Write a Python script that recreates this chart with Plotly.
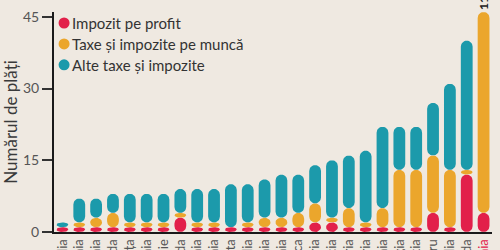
import math
import plotly.graph_objects as go

# ---- data ----
countries = ["Suedia", "Estonia", "Letonia", "Finlanda", "Franța", "Spania",
             "Marea Britanie", "Irlanda", "Germania", "Cehia", "Malta", "Portugalia",
             "Lituania", "Slovenia", "Danemarca", "Austria", "Grecia", "Bulgaria",
             "Ungaria", "Polonia", "Belgia", "Croația", "Cipru", "Italia", "Olanda",
             "România"]
profit = [1, 1, 1, 1, 1, 1, 1, 3, 1, 1, 1, 1, 1, 1, 1, 2, 2, 1, 1, 1, 1, 1, 4, 1, 12, 4]
munca  = [0, 1, 2, 3, 1, 1, 1, 1, 1, 1, 0, 1, 2, 2, 3, 4, 1, 4, 1, 4, 12, 12, 12, 12, 1, 42]
alte   = [1, 5, 4, 4, 6, 6, 6, 5, 7, 7, 9, 8, 8, 9, 8, 8, 12, 11, 15, 17, 9, 9, 11, 18, 27, 0]
series_names = ["Impozit pe profit", "Taxe și impozite pe muncă", "Alte taxe și impozite"]
romania_total_label = "113"
y_ticks = [0, 15, 30, 45]
y_title = "Numărul de plăți"

colors = ["#E2204A", "#EBA62C", "#1C9AAB"]
BG = "#EFE9E1"
FONT = "Lato"

# ---- layout geometry ----
W, H = 500, 250
M = dict(l=54, r=8, t=12, b=18)
Y_TOP = 46
N = len(countries)
HALF_W = 0.35  # half bar width in category units
px_x = (W - M["l"] - M["r"]) / N          # pixels per category
px_y = (H - M["t"] - M["b"]) / Y_TOP      # pixels per value unit
RY = HALF_W * px_x / px_y                 # round-cap height in value units


def pill(xc, a, b, n=14):
    """Outline of a pill (stadium) between values a and b at category xc."""
    h = b - a
    ry = min(RY, h / 2)
    top_c, bot_c = b - ry, a + ry
    xs, ys = [], []
    for k in range(n + 1):  # top cap, right -> left
        t = math.pi * k / n
        xs.append(xc + HALF_W * math.cos(t)); ys.append(top_c + ry * math.sin(t))
    for k in range(n + 1):  # bottom cap, left -> right
        t = math.pi + math.pi * k / n
        xs.append(xc + HALF_W * math.cos(t)); ys.append(bot_c + ry * math.sin(t))
    xs.append(xs[0]); ys.append(ys[0])
    return xs, ys


fig = go.Figure()
series = [profit, munca, alte]
base = [0] * N
for vals, col, name in zip(series, colors, series_names):
    X, Y = [], []
    for i, v in enumerate(vals):
        if v > 0:
            xs, ys = pill(i, base[i], base[i] + v)
            X += xs + [None]; Y += ys + [None]
    fig.add_trace(go.Scatter(x=X, y=Y, mode="lines", fill="toself", fillcolor=col,
                             line=dict(width=0, color=col), name=name,
                             showlegend=False, hoverinfo="skip"))
    base = [b + v for b, v in zip(base, vals)]

ticktext = countries[:-1] + ["<span style='color:#E2204A'>" + countries[-1] + "</span>"]

# custom legend (circle + text)
legend_y = [0.95, 0.855, 0.76]
shapes, annotations = [], []
for name, col, ly in zip(series_names, colors, legend_y):
    shapes.append(dict(type="circle", xref="paper", yref="paper", xsizemode="pixel", ysizemode="pixel",
                       xanchor=0.023, yanchor=ly, x0=-5.5, x1=5.5, y0=-5.5, y1=5.5,
                       fillcolor=col, line=dict(width=0)))
    annotations.append(dict(xref="paper", yref="paper", x=0.036, y=ly, xanchor="left", yanchor="middle",
                            text=name, showarrow=False, font=dict(family=FONT, size=15, color="#333333")))

annotations.append(dict(x=N - 1, y=base[-1], xref="x", yref="y",
                        text="<b>" + romania_total_label + "</b>", textangle=-90, showarrow=False,
                        xanchor="center", yanchor="bottom", font=dict(family=FONT, size=12, color="#222222")))

fig.update_layout(
    width=W, height=H,
    margin=M,
    paper_bgcolor=BG, plot_bgcolor=BG,
    showlegend=False,
    font=dict(family=FONT, color="#555555"),
    shapes=shapes,
    annotations=annotations,
    xaxis=dict(type="linear", range=[-0.5, N - 0.5], tickmode="array", tickvals=list(range(N)),
               ticktext=ticktext, tickangle=-90,
               showline=True, linecolor="#1a1a1a", linewidth=2, ticks="", showgrid=False,
               zeroline=False, tickfont=dict(family=FONT, size=13, color="#555555"), automargin=False),
    yaxis=dict(range=[0, Y_TOP], tickvals=y_ticks, showline=True, linecolor="#1a1a1a", linewidth=2,
               ticks="outside", ticklen=10, tickwidth=2, tickcolor="#333333", showgrid=False, zeroline=False,
               tickfont=dict(family=FONT, size=14, color="#555555"), automargin=False,
               title=dict(text=y_title, font=dict(family=FONT, size=17, color="#3a3a3a"), standoff=6)),
)

fig.write_html("out.html")
